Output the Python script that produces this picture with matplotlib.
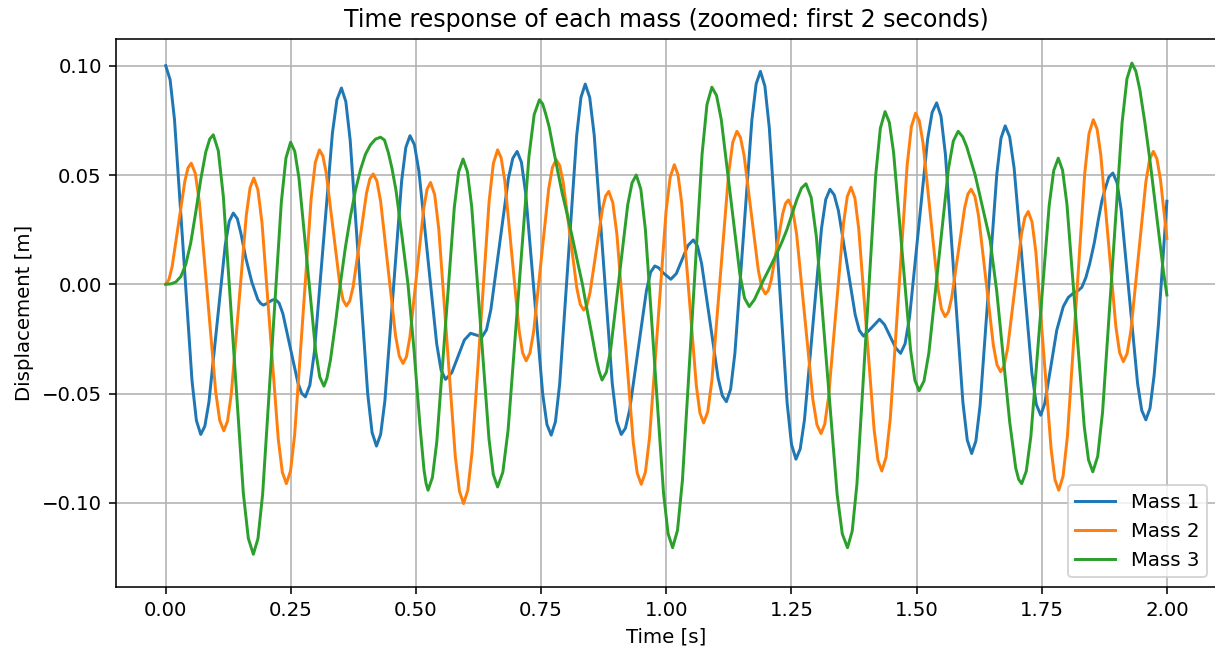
import matplotlib
matplotlib.use("Agg")
import matplotlib.pyplot as plt

# values (time in s, displacement in m)
mass1_t = [0.000, 0.00875, 0.0175, 0.0525, 0.06125, 0.070,
           0.0781, 0.0863, 0.1188, 0.1269, 0.135,
           0.143, 0.150, 0.160, 0.172, 0.184, 0.190, 0.195,
           0.201, 0.207, 0.213, 0.219,
           0.2265, 0.234, 0.264, 0.2715, 0.279,
           0.288, 0.297, 0.333, 0.342, 0.351,
           0.35975, 0.3685, 0.4035, 0.41225, 0.421,
           0.4294, 0.4378, 0.4713, 0.4796, 0.488,
           0.4969, 0.5058, 0.5413, 0.5501, 0.559,
           0.5715, 0.584, 0.5965, 0.609, 0.620, 0.632,
           0.64075, 0.6495, 0.6845, 0.69325, 0.702,
           0.7105, 0.719, 0.753, 0.7615, 0.770,
           0.7785, 0.787, 0.821, 0.8295, 0.838,
           0.847, 0.856, 0.892, 0.901, 0.910,
           0.9184, 0.9268, 0.9603, 0.9686, 0.977,
           0.985, 0.993, 1.009, 1.020, 1.0315, 1.043, 1.054,
           1.0623, 1.0705, 1.1035, 1.1118, 1.120,
           1.1285, 1.137, 1.171, 1.1795, 1.188,
           1.1969, 1.2058, 1.2413, 1.2501, 1.259,
           1.2675, 1.276, 1.310, 1.3185, 1.327,
           1.3354, 1.3438, 1.3773, 1.3856, 1.394,
           1.410, 1.426, 1.436, 1.447, 1.458, 1.468,
           1.477, 1.486, 1.522, 1.531, 1.540,
           1.54875, 1.5575, 1.5925, 1.60125, 1.610,
           1.6184, 1.6268, 1.6603, 1.6686, 1.677,
           1.6859, 1.6948, 1.7303, 1.7391, 1.748,
           1.756, 1.767, 1.780, 1.793, 1.803, 1.813, 1.822, 1.830,
           1.838, 1.846, 1.855, 1.863, 1.870, 1.876, 1.884, 1.892,
           1.9003, 1.9085, 1.9415, 1.9498, 1.958,
           1.9663, 1.9745, 1.983, 1.991, 2.000]
mass1_y = [0.100, 0.0936, 0.0754, -0.0441, -0.0623, -0.0687,
           -0.0649, -0.0539, 0.0178, 0.0288, 0.0326,
           0.030, 0.0235, 0.012, 0.001, -0.007, -0.0088, -0.0095,
           -0.0089, -0.0080, -0.0072, -0.0069,
           -0.0086, -0.0134, -0.0450, -0.0498, -0.0515,
           -0.0461, -0.0309, 0.0692, 0.0844, 0.0898,
           0.0836, 0.0659, -0.0501, -0.0678, -0.074,
           -0.0686, -0.0533, 0.0473, 0.0626, 0.068,
           0.0638, 0.0517, -0.0272, -0.0393, -0.0435,
           -0.0404, -0.033, -0.0255, -0.0224, -0.0232, -0.024,
           -0.0208, -0.0116, 0.0484, 0.0576, 0.0608,
           0.0559, 0.0418, -0.050, -0.0641, -0.069,
           -0.0629, -0.0456, 0.0682, 0.0855, 0.0916,
           0.0855, 0.0682, -0.0453, -0.0626, -0.0687,
           -0.0658, -0.0574, -0.0029, 0.0055, 0.0084,
           0.0075, 0.0054, 0.0023, 0.0049, 0.0113, 0.0177, 0.0203,
           0.0175, 0.0095, -0.0429, -0.0509, -0.0537,
           -0.048, -0.0316, 0.0753, 0.0917, 0.0974,
           0.0907, 0.0715, -0.0541, -0.0733, -0.080,
           -0.0753, -0.062, 0.0255, 0.0388, 0.0435,
           0.0409, 0.0337, -0.0139, -0.0211, -0.0237,
           -0.0199, -0.016, -0.0185, -0.0238, -0.029, -0.0316,
           -0.0272, -0.0149, 0.0663, 0.0786, 0.083,
           0.0769, 0.0596, -0.054, -0.0713, -0.0774,
           -0.0717, -0.0555, 0.0506, 0.0668, 0.0725,
           0.0675, 0.0532, -0.0406, -0.0549, -0.0599,
           -0.0545, -0.0393, -0.021, -0.0102, -0.006, -0.0041, -0.003, -0.0014,
           0.003, 0.0096, 0.019, 0.0295, 0.038, 0.0432, 0.049, 0.0509,
           0.0466, 0.0344, -0.0455, -0.0577, -0.062,
           -0.0567, -0.0416, -0.0187, 0.008, 0.038]

mass2_t = [0.000, 0.0064, 0.0128, 0.0383, 0.0446, 0.051,
           0.0591, 0.0673, 0.0998, 0.1079, 0.116,
           0.1235, 0.131, 0.161, 0.1685, 0.176,
           0.1841, 0.1923, 0.2248, 0.2329, 0.241,
           0.2493, 0.2575, 0.2905, 0.2988, 0.307,
           0.3138, 0.3205, 0.3475, 0.3543, 0.361,
           0.3677, 0.3744, 0.4011, 0.4078, 0.4145,
           0.4219, 0.4294, 0.4591, 0.4666, 0.474,
           0.4809, 0.4878, 0.5153, 0.5221, 0.529,
           0.5373, 0.5455, 0.5785, 0.5868, 0.595,
           0.6035, 0.612, 0.646, 0.6545, 0.663,
           0.6701, 0.6773, 0.7058, 0.7129, 0.720,
           0.7275, 0.735, 0.765, 0.7725, 0.780,
           0.7869, 0.7938, 0.8213, 0.8281, 0.835,
           0.8413, 0.8475, 0.8725, 0.8788, 0.885,
           0.8931, 0.9013, 0.9338, 0.9419, 0.950,
           0.9583, 0.9665, 0.9995, 1.0078, 1.016,
           1.0233, 1.0306, 1.0599, 1.0672, 1.0745,
           1.0828, 1.0911, 1.1244, 1.1327, 1.141,
           1.1481, 1.1553, 1.1838, 1.1909, 1.198,
           1.2038, 1.2095, 1.2325, 1.2383, 1.244,
           1.2521, 1.2603, 1.2928, 1.3009, 1.309,
           1.3165, 1.324, 1.354, 1.3615, 1.369,
           1.3767, 1.3844, 1.4151, 1.4228, 1.4305,
           1.4389, 1.4474, 1.4811, 1.4896, 1.498,
           1.5054, 1.5128, 1.5423, 1.5496, 1.557,
           1.5635, 1.570, 1.596, 1.6025, 1.609,
           1.6164, 1.6238, 1.6533, 1.6606, 1.668,
           1.6749, 1.6818, 1.7093, 1.7161, 1.723,
           1.7306, 1.7383, 1.7688, 1.7764, 1.784,
           1.7926, 1.8013, 1.8358, 1.8444, 1.853,
           1.8605, 1.868, 1.898, 1.9055, 1.913,
           1.9205, 1.928, 1.958, 1.9655, 1.973,
           1.9801, 1.9873, 1.9944, 2.000]
mass2_y = [0.000, 0.0021, 0.0081, 0.0473, 0.0533, 0.0554,
           0.0507, 0.0375, -0.0491, -0.0623, -0.067,
           -0.0626, -0.0501, 0.0317, 0.0442, 0.0486,
           0.0433, 0.0282, -0.0708, -0.0859, -0.0912,
           -0.0854, -0.0689, 0.0392, 0.0557, 0.0615,
           0.0588, 0.0511, 0.0005, -0.0072, -0.0099,
           -0.0076, -0.0011, 0.0417, 0.0482, 0.0505,
           0.0472, 0.0378, -0.0235, -0.0329, -0.0362,
           -0.0331, -0.0241, 0.0345, 0.0435, 0.0466,
           0.041, 0.0252, -0.0789, -0.0947, -0.1003,
           -0.0942, -0.0767, 0.0379, 0.0553, 0.0615,
           0.0578, 0.0474, -0.0209, -0.0313, -0.035,
           -0.0315, -0.0216, 0.0436, 0.0535, 0.057,
           0.0544, 0.047, -0.0018, -0.0092, -0.0118,
           -0.0097, -0.0039, 0.0346, 0.0404, 0.0425,
           0.0374, 0.0229, -0.0719, -0.0864, -0.0915,
           -0.0859, -0.0702, 0.0334, 0.0491, 0.0547,
           0.0502, 0.0375, -0.0462, -0.0589, -0.0634,
           -0.0583, -0.0439, 0.0505, 0.0649, 0.070,
           0.0672, 0.0591, 0.0065, -0.0016, -0.0044,
           -0.0028, 0.0019, 0.0323, 0.037, 0.0386,
           0.0345, 0.023, -0.0527, -0.0642, -0.0683,
           -0.064, -0.0518, 0.0279, 0.0401, 0.0444,
           0.0395, 0.0254, -0.0664, -0.0805, -0.0854,
           -0.0792, -0.0615, 0.0544, 0.0721, 0.0783,
           0.0748, 0.0647, -0.0012, -0.0113, -0.0148,
           -0.0126, -0.0063, 0.035, 0.0413, 0.0435,
           0.0403, 0.0313, -0.0278, -0.0368, -0.040,
           -0.0372, -0.0293, 0.0226, 0.0305, 0.0333,
           0.0285, 0.0147, -0.0756, -0.0894, -0.0942,
           -0.0878, -0.0695, 0.0506, 0.0689, 0.0753,
           0.0711, 0.0591, -0.0192, -0.0312, -0.0354,
           -0.0317, -0.0214, 0.0468, 0.0571, 0.0608,
           0.0574, 0.0477, 0.033, 0.021]

mass3_t = [0.000, 0.010, 0.020, 0.030, 0.040, 0.050, 0.060, 0.070, 0.080, 0.088, 0.095,
           0.105, 0.115, 0.155, 0.165, 0.175,
           0.1843, 0.1936, 0.2309, 0.2402, 0.2495,
           0.2578, 0.2661, 0.2994, 0.3077, 0.316,
           0.322, 0.329, 0.339, 0.349, 0.359, 0.369, 0.379, 0.389, 0.399, 0.409, 0.419, 0.429,
           0.437, 0.445, 0.452, 0.460, 0.472, 0.484, 0.496, 0.508, 0.516, 0.520, 0.524,
           0.53275, 0.5415, 0.5765, 0.58525, 0.594,
           0.6026, 0.6113, 0.6458, 0.6544, 0.663,
           0.6734, 0.6839, 0.7256, 0.7361, 0.7465,
           0.753, 0.759, 0.766, 0.772, 0.782, 0.792, 0.802, 0.812, 0.822, 0.832,
           0.842, 0.852, 0.860, 0.866, 0.8716,
           0.8802, 0.8887, 0.9229, 0.9315, 0.940,
           0.9491, 0.9582, 0.9945, 1.0035, 1.0126,
           1.0224, 1.0322, 1.0714, 1.0812, 1.091,
           1.1003, 1.1097, 1.147, 1.1564, 1.1657,
           1.176, 1.1943, 1.2076, 1.2209, 1.2309, 1.2409, 1.2508, 1.2608, 1.270, 1.279,
           1.2894, 1.2998, 1.3413, 1.3516, 1.362,
           1.3714, 1.3808, 1.4183, 1.4276, 1.437,
           1.4455, 1.454, 1.488, 1.4965, 1.505,
           1.5148, 1.5245, 1.5635, 1.5733, 1.583,
           1.592, 1.600, 1.617, 1.632, 1.647, 1.660, 1.673, 1.686, 1.698, 1.704, 1.710,
           1.7191, 1.7283, 1.7648, 1.7739, 1.783,
           1.7916, 1.8003, 1.8348, 1.8434, 1.852,
           1.8618, 1.8715, 1.9105, 1.9203, 1.930,
           1.938, 1.946, 1.956, 1.966, 1.976, 1.986, 1.993, 2.000]
mass3_y = [0.000, 0.0002, 0.0010, 0.0035, 0.0090, 0.0190, 0.0330, 0.0480, 0.0605, 0.0665, 0.0684,
           0.0611, 0.0404, -0.0955, -0.1162, -0.1235,
           -0.1163, -0.096, 0.0375, 0.0578, 0.065,
           0.0608, 0.0487, -0.0303, -0.0424, -0.0466,
           -0.043, -0.0347, -0.018, 0.0005, 0.017, 0.031, 0.043, 0.0524, 0.0595, 0.0638, 0.0664, 0.0673,
           0.066, 0.060, 0.053, 0.043, 0.022, 0.000, -0.030, -0.065, -0.085, -0.091, -0.0942,
           -0.0884, -0.0721, 0.0352, 0.0515, 0.0573,
           0.0516, 0.0354, -0.0708, -0.087, -0.0927,
           -0.086, -0.0668, 0.0585, 0.0777, 0.0844,
           0.0825, 0.078, 0.072, 0.0647, 0.053, 0.0417, 0.032, 0.0218, 0.011, 0.0005,
           -0.012, -0.024, -0.034, -0.040, -0.0438,
           -0.0402, -0.0301, 0.0363, 0.0464, 0.050,
           0.0435, 0.0251, -0.0956, -0.114, -0.1205,
           -0.1125, -0.0897, 0.0594, 0.0822, 0.0902,
           0.0864, 0.0755, 0.0045, -0.0064, -0.0102,
           -0.007, 0.002, 0.008, 0.0142, 0.0193, 0.025, 0.0318, 0.0388, 0.044, 0.046,
           0.0397, 0.0217, -0.0962, -0.1142, -0.1205,
           -0.1129, -0.0914, 0.0499, 0.0714, 0.079,
           0.0741, 0.0604, -0.0301, -0.0438, -0.0487,
           -0.0442, -0.0314, 0.0527, 0.0655, 0.070,
           0.0675, 0.063, 0.050, 0.035, 0.020, -0.003, -0.033, -0.063, -0.084, -0.0893, -0.0912,
           -0.0855, -0.0695, 0.036, 0.052, 0.0577,
           0.0522, 0.0367, -0.0648, -0.0803, -0.0858,
           -0.0787, -0.0585, 0.0739, 0.0941, 0.1012,
           0.0975, 0.089, 0.074, 0.057, 0.038, 0.0188, 0.006, -0.0049]

labels = ['Mass 1', 'Mass 2', 'Mass 3']

DPI = 142
fig = plt.figure(figsize=(1215 / DPI, 650 / DPI), dpi=DPI)
ax = fig.add_axes([0.0952, 0.0965, 0.9064, 0.8431])

ax.plot(mass1_t, mass1_y, label=labels[0])
ax.plot(mass2_t, mass2_y, label=labels[1])
ax.plot(mass3_t, mass3_y, label=labels[2])

ax.set_xlim(-0.1, 2.1)
ax.set_ylim(-0.1386, 0.1121)
ax.set_title('Time response of each mass (zoomed: first 2 seconds)')
ax.set_xlabel('Time [s]')
ax.set_ylabel('Displacement [m]')
ax.grid(True)
ax.legend(loc='lower right')

fig.savefig('out.png', dpi=DPI)
